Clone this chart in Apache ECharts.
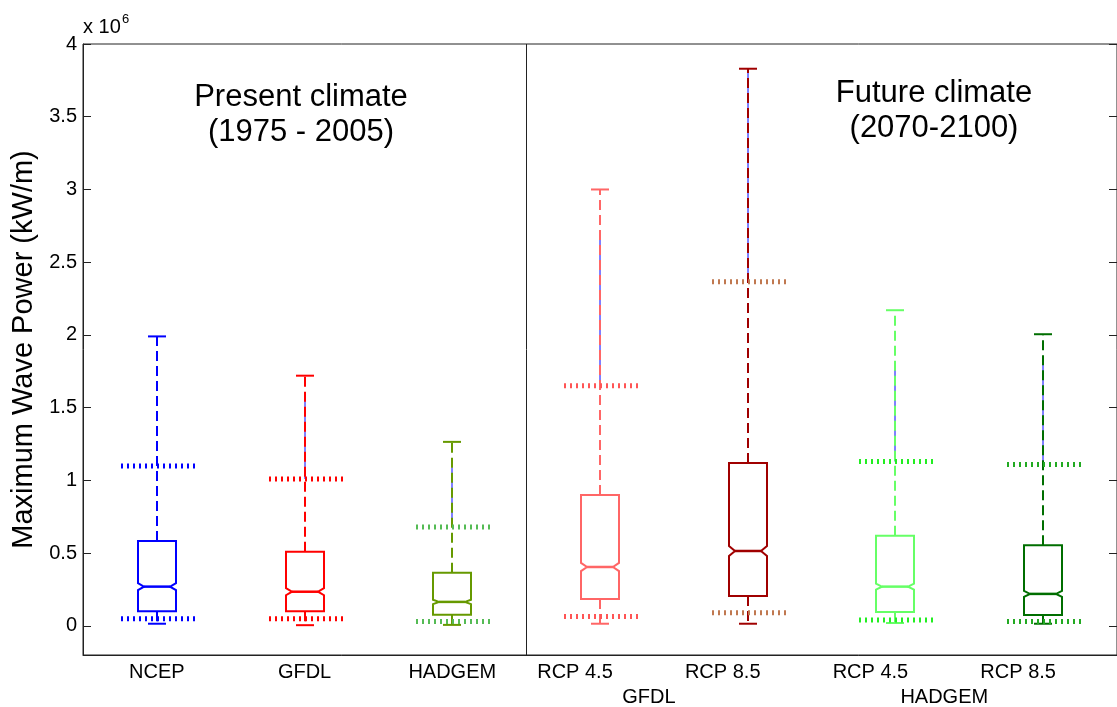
<!DOCTYPE html>
<html>
<head>
<meta charset="utf-8">
<title>Maximum Wave Power</title>
<script src="https://cdn.jsdelivr.net/npm/echarts@6/dist/echarts.min.js"></script>
<style>
  html, body { margin: 0; padding: 0; background: #fff; }
  #chart { width: 1117px; height: 707px; }
</style>
</head>
<body>
<div id="chart"></div>
<script>
// values in units of 10^6 kW/m
const categories = ['NCEP', 'GFDL', 'HADGEM', 'RCP 4.5', 'RCP 8.5', 'RCP 4.5', 'RCP 8.5']
const groupLabels = ['GFDL', 'HADGEM']
const whiskerLow = [0.015, 0.005, 0.007, 0.015, 0.015, 0.02, 0.015]
const q1 = [0.10, 0.10, 0.076, 0.185, 0.205, 0.095, 0.075]
const median = [0.27, 0.235, 0.165, 0.405, 0.515, 0.27, 0.22]
const q3 = [0.584, 0.51, 0.365, 0.90, 1.12, 0.62, 0.555]
const whiskerHigh = [1.99, 1.72, 1.265, 3.00, 3.83, 2.17, 2.005]
const lowDotted = [0.05, 0.05, 0.03, 0.065, 0.09, 0.04, 0.03]
const highDotted = [1.10, 1.01, 0.68, 1.65, 2.365, 1.13, 1.11]
const notchHalf = [0.024, 0.024, 0.015, 0.028, 0.034, 0.02, 0.02]
const blueTop = [0, 1.57, 1.09, 2.67, 3.83, 1.81, 1.83]
const yTicks = [0, 0.5, 1, 1.5, 2, 2.5, 3, 3.5, 4]

const boxColors = ['#0000ff', '#ff0000', '#669900', '#ff6666', '#a00000', '#66ff66', '#006e00']
const dotColors = ['#0000ff', '#ff0000', '#55bb55', '#ff5555', '#c07850', '#22ee22', '#22aa22']

const font = 'Liberation Sans, Arial, sans-serif'

const boxData = categories.map((c, i) => [
  i + 1, whiskerLow[i], q1[i], median[i], q3[i], whiskerHigh[i],
  lowDotted[i], highDotted[i], notchHalf[i], blueTop[i]
])

function renderBox (params, api) {
  const i = params.dataIndex
  const x = api.value(0)
  const cx = Math.round(api.coord([x, 0])[0])
  const y = v => api.coord([x, v])[1]
  const unit = api.size([1, 0])[0]
  const halfBox = Math.round(unit * 0.128)
  const halfCap = Math.round(unit * 0.064)
  const halfDot = Math.round(unit * 0.246)
  const depth = 6
  const color = boxColors[i]
  const dot = dotColors[i]
  const wl = api.value(1), b1 = api.value(2), md = api.value(3), b3 = api.value(4)
  const wh = api.value(5), pl = api.value(6), ph = api.value(7), n = api.value(8)
  const bt = api.value(9)
  const L = cx - halfBox, R = cx + halfBox
  const children = []
  if (bt > ph) {
    children.push({ type: 'line', shape: { x1: cx, y1: y(bt), x2: cx, y2: y(ph) },
      style: { stroke: '#0000ff', lineWidth: 1 } })
  }
  children.push(
    { type: 'line', shape: { x1: cx, y1: y(b3), x2: cx, y2: y(wh) },
      style: { stroke: color, lineWidth: 2, lineDash: [10, 5] } },
    { type: 'line', shape: { x1: cx, y1: y(b1), x2: cx, y2: y(wl) },
      style: { stroke: color, lineWidth: 2, lineDash: [10, 5] } },
    { type: 'line', shape: { x1: cx - halfCap, y1: y(wh), x2: cx + halfCap, y2: y(wh) },
      style: { stroke: color, lineWidth: 2 } },
    { type: 'line', shape: { x1: cx - halfCap, y1: y(wl), x2: cx + halfCap, y2: y(wl) },
      style: { stroke: color, lineWidth: 2 } },
    { type: 'line', shape: { x1: cx - halfDot, y1: y(ph), x2: cx + halfDot + 2, y2: y(ph) },
      style: { stroke: dot, lineWidth: 5, lineDash: [2, 4] } },
    { type: 'line', shape: { x1: cx - halfDot, y1: y(pl), x2: cx + halfDot + 2, y2: y(pl) },
      style: { stroke: dot, lineWidth: 5, lineDash: [2, 4] } },
    { type: 'polygon',
      shape: { points: [
        [L, y(b1)], [L, y(md - n)], [L + depth, y(md)], [L, y(md + n)], [L, y(b3)],
        [R, y(b3)], [R, y(md + n)], [R - depth, y(md)], [R, y(md - n)], [R, y(b1)]
      ] },
      style: { fill: 'none', stroke: color, lineWidth: 2 } },
    { type: 'line', shape: { x1: L + depth, y1: y(md), x2: R - depth, y2: y(md) },
      style: { stroke: color, lineWidth: 2.5 } }
  )
  return { type: 'group', children }
}

const chart = echarts.init(document.getElementById('chart'))

const labelRich = { s: { fontSize: 20, fontFamily: font, color: '#000', padding: [0, 50, 0, 0] } }

const option = {
  animation: false,
  backgroundColor: '#fff',
  grid: { left: 83, top: 44, width: 1038, height: 612, show: true, borderColor: '#222', borderWidth: 1 },
  xAxis: [{
    type: 'value', min: 0.5, max: 7.5,
    axisLine: { show: true, onZero: false, lineStyle: { color: '#222' } },
    axisTick: { show: false },
    splitLine: { show: false },
    axisLabel: {
      customValues: [1, 2, 3, 4, 5, 6, 7],
      margin: 7,
      fontSize: 20, fontFamily: font, color: '#000',
      formatter: v => v >= 4 ? '{s|' + categories[v - 1] + '}' : categories[v - 1],
      rich: labelRich
    }
  }, {
    type: 'value', min: 0.5, max: 7.5, position: 'bottom', offset: 25,
    axisLine: { show: false, onZero: false }, axisTick: { show: false }, splitLine: { show: false },
    axisLabel: {
      customValues: [4.5, 6.5],
      margin: 7,
      fontSize: 20, fontFamily: font, color: '#000',
      formatter: v => '{s|' + groupLabels[v === 4.5 ? 0 : 1] + '}',
      rich: labelRich
    }
  }],
  yAxis: [{
    type: 'value', min: -0.2, max: 4, position: 'left',
    name: 'Maximum Wave Power (kW/m)', nameLocation: 'middle', nameGap: 43,
    nameTextStyle: { fontSize: 29, fontFamily: font, color: '#000' },
    axisLine: { show: true, onZero: false, lineStyle: { color: '#222' } },
    axisTick: { show: true, inside: true, length: 8, customValues: yTicks, lineStyle: { color: '#222' } },
    splitLine: { show: false },
    axisLabel: { customValues: yTicks, margin: 6, fontSize: 20, fontFamily: font, color: '#000',
      formatter: v => String(v) }
  }, {
    type: 'value', min: -0.2, max: 4, position: 'right',
    axisLine: { show: true, onZero: false, lineStyle: { color: '#222' } },
    axisTick: { show: true, inside: true, length: 8, customValues: yTicks, lineStyle: { color: '#222' } },
    splitLine: { show: false },
    axisLabel: { show: false }
  }],
  graphic: [
    { type: 'text', x: 83, y: 27, style: { text: 'x 10', fontSize: 20, fontFamily: font, fill: '#000',
      textAlign: 'left', textVerticalAlign: 'middle' } },
    { type: 'text', x: 122, y: 19, style: { text: '6', fontSize: 13, fontFamily: font, fill: '#000',
      textAlign: 'left', textVerticalAlign: 'middle' } },
    { type: 'text', x: 301, y: 80, style: { text: 'Present climate\n(1975 - 2005)', fontSize: 31,
      lineHeight: 35, fontFamily: font, fill: '#000', textAlign: 'center', textVerticalAlign: 'top' } },
    { type: 'text', x: 934, y: 76, style: { text: 'Future climate\n(2070-2100)', fontSize: 31,
      lineHeight: 35, fontFamily: font, fill: '#000', textAlign: 'center', textVerticalAlign: 'top' } }
  ],
  series: [{
    type: 'custom',
    renderItem: renderBox,
    encode: { x: 0, y: [1, 5] },
    data: boxData,
    silent: true,
    markLine: {
      silent: true, symbol: 'none', label: { show: false },
      lineStyle: { color: '#222', width: 1, type: 'solid' },
      data: [{ xAxis: 3.5 }]
    }
  }]
}

chart.setOption(option)
</script>
</body>
</html>
